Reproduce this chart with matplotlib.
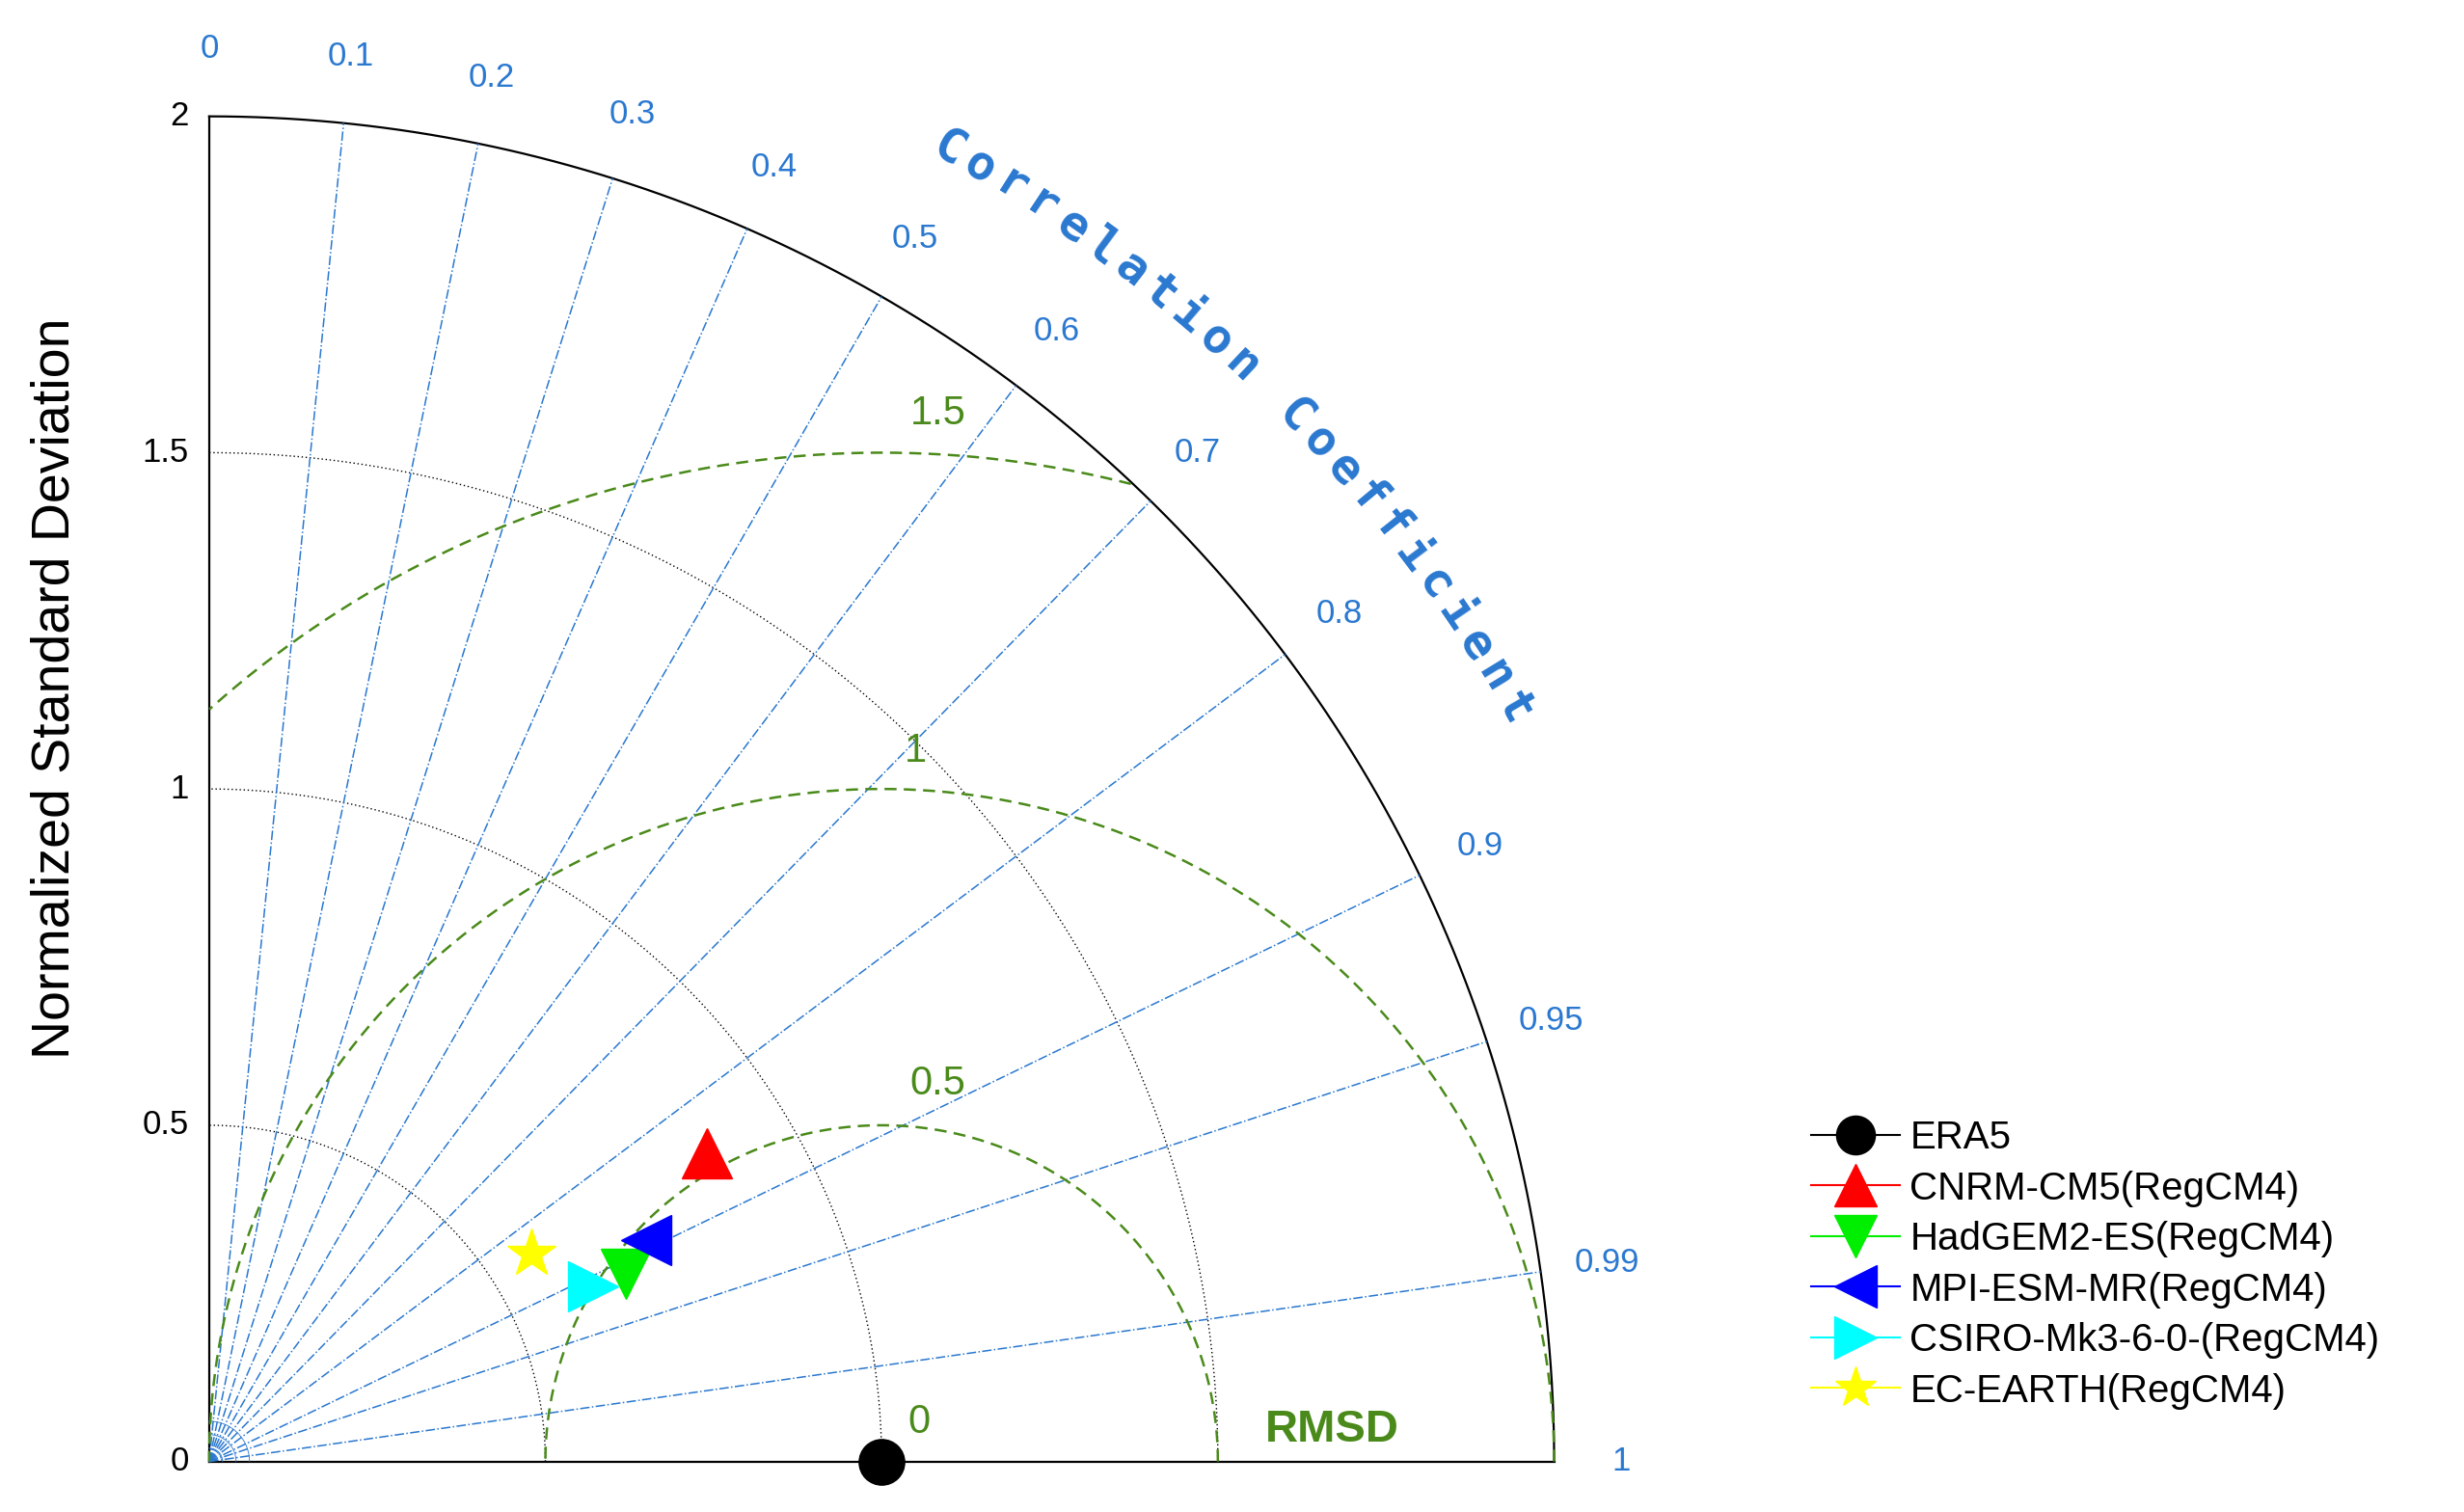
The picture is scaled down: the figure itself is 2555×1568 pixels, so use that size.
import numpy as np
import matplotlib
matplotlib.use("Agg")
import matplotlib.pyplot as plt
from matplotlib.lines import Line2D

plt.rcParams['font.family'] = ['Liberation Sans', 'DejaVu Sans']

models = ["ERA5", "CNRM-CM5(RegCM4)", "HadGEM2-ES(RegCM4)", "MPI-ESM-MR(RegCM4)",
          "CSIRO-Mk3-6-0-(RegCM4)", "EC-EARTH(RegCM4)"]
std_vals = [1.0, 0.871, 0.680, 0.729, 0.627, 0.571]
corr_vals = [1.0, 0.850, 0.912, 0.892, 0.910, 0.840]
markers = ["o", "^", "v", "<", ">", "*"]
colors = ["black", "red", "#00ee00", "blue", "cyan", "yellow"]
corr_ticks = [0, 0.1, 0.2, 0.3, 0.4, 0.5, 0.6, 0.7, 0.8, 0.9, 0.95, 0.99, 1]
std_ticks = [0, 0.5, 1, 1.5, 2]
rmsd_levels = [0.5, 1.0, 1.5]

BLUE = "#2a78d0"
GREEN = "#4a8a1a"
fig = plt.figure(figsize=(25.55, 15.68), dpi=100)
ax = fig.add_axes([0, 0, 1, 1])
ax.set_xlim(-0.311, 3.353)
ax.set_ylim(-0.075, 2.173)
ax.axis("off")

R = 2.0
t = np.linspace(0, np.pi / 2, 400)
ax.plot(R * np.cos(t), R * np.sin(t), color="black", lw=1.6)
ax.plot([0, 0], [0, R], color="black", lw=1.6)
ax.plot([0, R], [0, 0], color="black", lw=1.6)
for s in std_ticks[1:-1]:
    ax.plot(s * np.cos(t), s * np.sin(t), color="black", ls=(0, (1, 2)), lw=1.0)
for s in std_ticks:
    ax.text(-0.03, s, f"{s:g}", ha="right", va="center", fontsize=25)

for c in corr_ticks:
    a = np.arccos(c)
    if 0 < c < 1:
        ax.plot([0, R * np.cos(a)], [0, R * np.sin(a)], color=BLUE, ls="-.", lw=1.1)
    ax.text(2.1 * np.cos(a), 2.1 * np.sin(a), f"{c:g}", ha="center", va="center",
            fontsize=25, color=BLUE)
for s in [0.02, 0.04, 0.06]:
    ax.plot(s * np.cos(t), s * np.sin(t), color=BLUE, lw=0.6)

title = "Correlation Coefficient"
a0, a1 = 60.6, 30.0
for i, ch in enumerate(title):
    ang = np.deg2rad(a0 + (a1 - a0) * i / (len(title) - 1))
    ax.text(2.24 * np.cos(ang), 2.24 * np.sin(ang), ch, rotation=np.rad2deg(ang) - 90,
            ha="center", va="center", fontsize=36, fontweight="bold", color=BLUE,
            family=["DejaVu Sans Mono", "DejaVu Sans"])

th = np.linspace(0, np.pi, 800)
for r in rmsd_levels:
    x = 1 + r * np.cos(th)
    y = r * np.sin(th)
    m = (x ** 2 + y ** 2 <= R ** 2 + 1e-9) & (x >= 0)
    x = np.where(m, x, np.nan); y = np.where(m, y, np.nan)
    ax.plot(x, y, color=GREEN, ls=(0, (5, 3)), lw=1.8)
for r, (lx, ly) in zip([0, 0.5, 1, 1.5], [(1.056, 0.058), (1.084, 0.561), (1.05, 1.056), (1.084, 1.558)]):
    ax.text(lx, ly, f"{r:g}", color=GREEN, fontsize=30, ha="center", va="center")
ax.text(1.67, 0.047, "RMSD", color=GREEN, fontsize=34, fontweight="bold", ha="center", va="center")

ax.text(-0.229, 1.15, "Normalized Standard Deviation", rotation=90, ha="center", va="center", fontsize=40)

handles = []
for i, name in enumerate(models):
    a = np.arccos(corr_vals[i])
    ms = 38 if markers[i] == "*" else (34 if markers[i] == "o" else 38)
    ax.plot(std_vals[i] * np.cos(a), std_vals[i] * np.sin(a), marker=markers[i], color=colors[i],
            ms=ms, ls="none", clip_on=False, zorder=5)
    handles.append(Line2D([], [], color=colors[i], marker=markers[i], ms=ms * 0.85, lw=1.5))

fig.legend(handles, models, loc="upper left", bbox_to_anchor=(1140 / 1568, 1 - 700 / 962),
           frameon=False, fontsize=29, handlelength=2.3, labelspacing=0.36, handletextpad=0.25,
           borderpad=0)
fig.savefig("out.png", dpi=100)
